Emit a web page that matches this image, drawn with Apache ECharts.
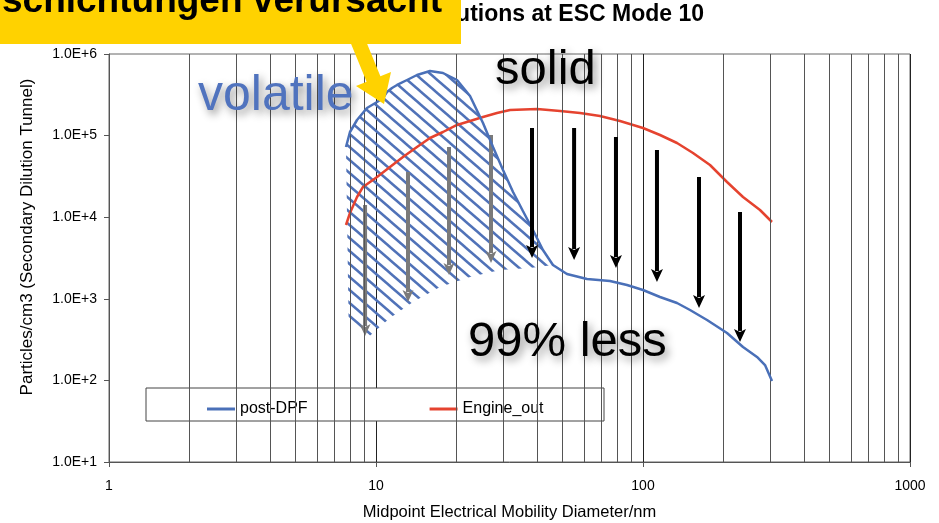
<!DOCTYPE html>
<html><head><meta charset="utf-8">
<script src="https://cdn.jsdelivr.net/npm/echarts@6/dist/echarts.min.js"></script>
<style>html,body{margin:0;padding:0;background:#fff}#c{width:939px;height:523px}</style>
</head><body><div id="c"></div>
<script>
// ---- data ----
const xTickLabels = ['1', '10', '100', '1000'];
const yTickLabels = ['1.0E+0', '1.0E+1', '1.0E+2', '1.0E+3', '1.0E+4', '1.0E+5', '1.0E+6'];
const minorGridDiameters = [2, 3, 4, 5, 6, 7, 8, 9, 20, 30, 40, 50, 60, 70, 80, 90, 200, 300, 400, 500, 600, 700, 800, 900];

const postDpfDiameter = [7.72, 7.99, 8.49, 9.25, 10.09, 10.62, 10.99, 11.48, 11.99, 13.07, 14.24, 15.93, 17.82, 20.11, 22.5, 25.16, 27.43, 29.9, 32.6, 35.5, 38.7, 42.2, 46.0, 51.9, 61.7, 75.2, 87.1, 100, 115.8, 134.1, 150, 173.7, 206.4, 236.9, 267.3, 286.4, 304.2];
const postDpfCount = [72500, 110700, 155300, 217900, 258000, 288900, 342100, 383100, 417100, 480200, 552800, 619000, 585000, 480200, 305800, 142700, 72500, 37880, 20360, 11910, 6970, 3960, 2595, 2013, 1748, 1653, 1476, 1282, 1052, 888, 729, 550, 381, 257, 194, 154, 98];

const engineDiameter = [7.72, 7.99, 8.49, 8.94, 10.09, 11.28, 12.62, 14.24, 15.93, 17.82, 20.11, 22.5, 25.16, 28.39, 31.77, 40.1, 48.9, 58.1, 69.0, 82.0, 100, 115.8, 134.1, 153.9, 178.2, 206.4, 236.9, 274.3, 304.2];
const engineCount = [8025, 11260, 17680, 23460, 31090, 41240, 54660, 72500, 93460, 110700, 134900, 151000, 169000, 189200, 205900, 211800, 200200, 189200, 173900, 151000, 123900, 101700, 81150, 61200, 43620, 27000, 17680, 12250, 8735];

// hatched "volatile" region: upper edge = post-DPF curve up to this index, lower edge below
const volatileUpperEnd = 22;
const volatileLowerDiameter = [37.74, 29.13, 22.5, 17.36, 13.76, 11.28, 9.10, 7.9];
const volatileLowerCount = [2385, 2254, 1850, 1396, 914, 582, 313, 480];

// reduction arrows
const volatileArrowDiameter = [9.10, 13.18, 18.77, 26.96];
const volatileArrowFrom = [14110, 35800, 72500, 101700];
const volatileArrowTo = [350, 914, 1958, 2747];

const solidArrowDiameter = [38.4, 55.2, 79.2, 112.8, 162.1, 230.8];
const solidArrowFrom = [123900, 123900, 96100, 66600, 31090, 11580];
const solidArrowTo = [3160, 2990, 2385, 1607, 771, 296];

const seriesNames = ['post-DPF', 'Engine_out'];
const title = 'Distributions at ESC Mode 10';
const banner = 'schichtungen verursacht';
const xName = 'Midpoint Electrical Mobility Diameter/nm';
const yName = 'Particles/cm3 (Secondary Dilution Tunnel)';

// ---- styling ----
const FONT = '"Liberation Sans", Arial, sans-serif';
const BLUE = '#4a70b8';
const RED = '#e5432f';
const HATCH = '#5072b8';

function zip(a, b) { return a.map((v, i) => [v, b[i]]); }

function hatchCanvas() {
  const W = 15, H = 13;
  const c = document.createElement('canvas');
  c.width = W; c.height = H;
  const g = c.getContext('2d');
  g.strokeStyle = HATCH; g.lineWidth = 2.5;
  for (let k = -1; k <= 1; k++) {
    g.beginPath();
    g.moveTo(-W, -H + k * H);
    g.lineTo(2 * W, 2 * H + k * H);
    g.stroke();
  }
  return c;
}
const pattern = hatchCanvas();

function arrowRender(color, width, headW, headL, xs, from, to) {
  return function (params, api) {
    const i = params.dataIndex;
    const p1 = api.coord([xs[i], from[i]]);
    const p2 = api.coord([xs[i], to[i]]);
    const yBase = p2[1] - headL;
    return {
      type: 'group',
      children: [
        { type: 'line', shape: { x1: p1[0], y1: p1[1], x2: p2[0], y2: yBase + 2 },
          style: { stroke: color, lineWidth: width } },
        { type: 'polygon', shape: { points: [[p2[0] - headW / 2, yBase], [p2[0], yBase + 3], [p2[0] + headW / 2, yBase], [p2[0], p2[1]]] },
          style: { fill: color } }
      ]
    };
  };
}

const chart = echarts.init(document.getElementById('c'), null, { renderer: 'canvas' });

const shadow = { textShadowColor: 'rgba(0,0,0,0.45)', textShadowBlur: 8, textShadowOffsetX: 3, textShadowOffsetY: 4 };

chart.setOption({
  animation: false,
  backgroundColor: '#fff',
  textStyle: { fontFamily: FONT },
  grid: { left: 109, right: 29, top: 54, bottom: 61, outerBoundsMode: 'none', containLabel: false,
    show: true, borderColor: '#666', borderWidth: 1, backgroundColor: 'transparent' },
  legend: {
    data: seriesNames,
    left: 202, top: 396,
    icon: 'rect', itemWidth: 28, itemHeight: 3, itemGap: 122,
    textStyle: { fontSize: 16, color: '#000', fontFamily: FONT }
  },
  xAxis: {
    type: 'log', logBase: 10, min: 1, max: 1000,
    axisLine: { show: true, onZero: false, lineStyle: { color: '#555', width: 1 } },
    axisTick: { show: true, length: 5, lineStyle: { color: '#555' } },
    axisLabel: { margin: 17, fontSize: 14, color: '#000', fontFamily: FONT,
      formatter: v => xTickLabels[Math.round(Math.log10(v))] },
    splitLine: { show: true, lineStyle: { color: '#222', width: 1 } },
    name: xName, nameLocation: 'middle', nameGap: 42,
    nameTextStyle: { fontSize: 16.5, color: '#000', fontFamily: FONT }
  },
  yAxis: {
    type: 'log', logBase: 10, min: 10, max: 1e6,
    axisLine: { show: true, onZero: false, lineStyle: { color: '#555', width: 1 } },
    axisTick: { show: true, length: 5, lineStyle: { color: '#555' } },
    axisLabel: { margin: 12, fontSize: 14, color: '#000', fontFamily: FONT,
      formatter: v => yTickLabels[Math.round(Math.log10(v))] },
    splitLine: { show: false },
    name: yName, nameLocation: 'middle', nameGap: 73,
    nameTextStyle: { fontSize: 17, color: '#000', fontFamily: FONT, padding: [0, 0, 0, 42] }
  },
  series: [
    {
      type: 'line', name: 'minorGrid', data: [], silent: true, z: 0,
      markLine: {
        silent: true, symbol: ['none', 'none'], label: { show: false },
        lineStyle: { color: '#555', width: 1, type: 'solid' },
        animation: false,
        data: minorGridDiameters.map(d => ({ xAxis: d }))
      }
    },
    {
      type: 'custom', name: 'volatileHatch', silent: true, z: 2,
      data: [[10, 1000]], encode: { x: 0, y: 1 },
      renderItem: function (params, api) {
        const pts = [];
        for (let i = 0; i <= volatileUpperEnd; i++) pts.push(api.coord([postDpfDiameter[i], postDpfCount[i]]));
        for (let i = 0; i < volatileLowerDiameter.length; i++) pts.push(api.coord([volatileLowerDiameter[i], volatileLowerCount[i]]));
        return { type: 'polygon', shape: { points: pts }, style: { fill: { image: pattern, repeat: 'repeat' }, stroke: null } };
      }
    },
    {
      type: 'custom', name: 'volatileArrows', silent: true, z: 3,
      data: volatileArrowDiameter.map((d, i) => [d, volatileArrowFrom[i], volatileArrowTo[i]]),
      encode: { x: 0, y: [1, 2] },
      renderItem: arrowRender('#7a7a7a', 4, 11, 12, volatileArrowDiameter, volatileArrowFrom, volatileArrowTo)
    },
    {
      type: 'line', name: 'Engine_out', data: zip(engineDiameter, engineCount),
      symbol: 'none', z: 4, lineStyle: { color: RED, width: 2.5 }, itemStyle: { color: RED }
    },
    {
      type: 'line', name: 'post-DPF', data: zip(postDpfDiameter, postDpfCount),
      symbol: 'none', z: 5, lineStyle: { color: BLUE, width: 2.5 }, itemStyle: { color: BLUE }
    },
    {
      type: 'custom', name: 'solidArrows', silent: true, z: 6,
      data: solidArrowDiameter.map((d, i) => [d, solidArrowFrom[i], solidArrowTo[i]]),
      encode: { x: 0, y: [1, 2] },
      renderItem: arrowRender('#000', 4, 12, 13, solidArrowDiameter, solidArrowFrom, solidArrowTo)
    }
  ],
  graphic: [
    { type: 'rect', z: 1, shape: { x: 146, y: 388, width: 458, height: 33 },
      style: { fill: '#fff', stroke: '#444', lineWidth: 1 } },
    { type: 'text', z: 10, x: 704, y: 15,
      style: { text: title, font: 'bold 23px ' + FONT, fill: '#000', align: 'right', verticalAlign: 'middle' } },
    { type: 'rect', z: 20, shape: { x: 0, y: 0, width: 461, height: 44 }, style: { fill: '#ffd200' } },
    { type: 'polygon', z: 20, shape: { points: [[346.5, 32.8], [360.3, 27.2], [380.4, 76.2], [391, 72], [384, 104], [356, 86], [366.6, 81.8]] },
      style: { fill: '#ffd200' } },
    { type: 'text', z: 21, x: 2, y: 2,
      style: { text: banner, font: 'bold 37px ' + FONT, fill: '#000', align: 'left', verticalAlign: 'middle' } },
    { type: 'text', z: 15, x: 198, y: 96,
      style: Object.assign({ text: 'volatile', font: '50px ' + FONT, fill: '#5073be', align: 'left', verticalAlign: 'middle' }, shadow) },
    { type: 'text', z: 15, x: 495, y: 70,
      style: Object.assign({ text: 'solid', font: '49px ' + FONT, fill: '#000', align: 'left', verticalAlign: 'middle' }, shadow) },
    { type: 'text', z: 15, x: 468, y: 342,
      style: Object.assign({ text: '99% less', font: '49px ' + FONT, fill: '#000', align: 'left', verticalAlign: 'middle' }, shadow) }
  ]
});
</script></body></html>
